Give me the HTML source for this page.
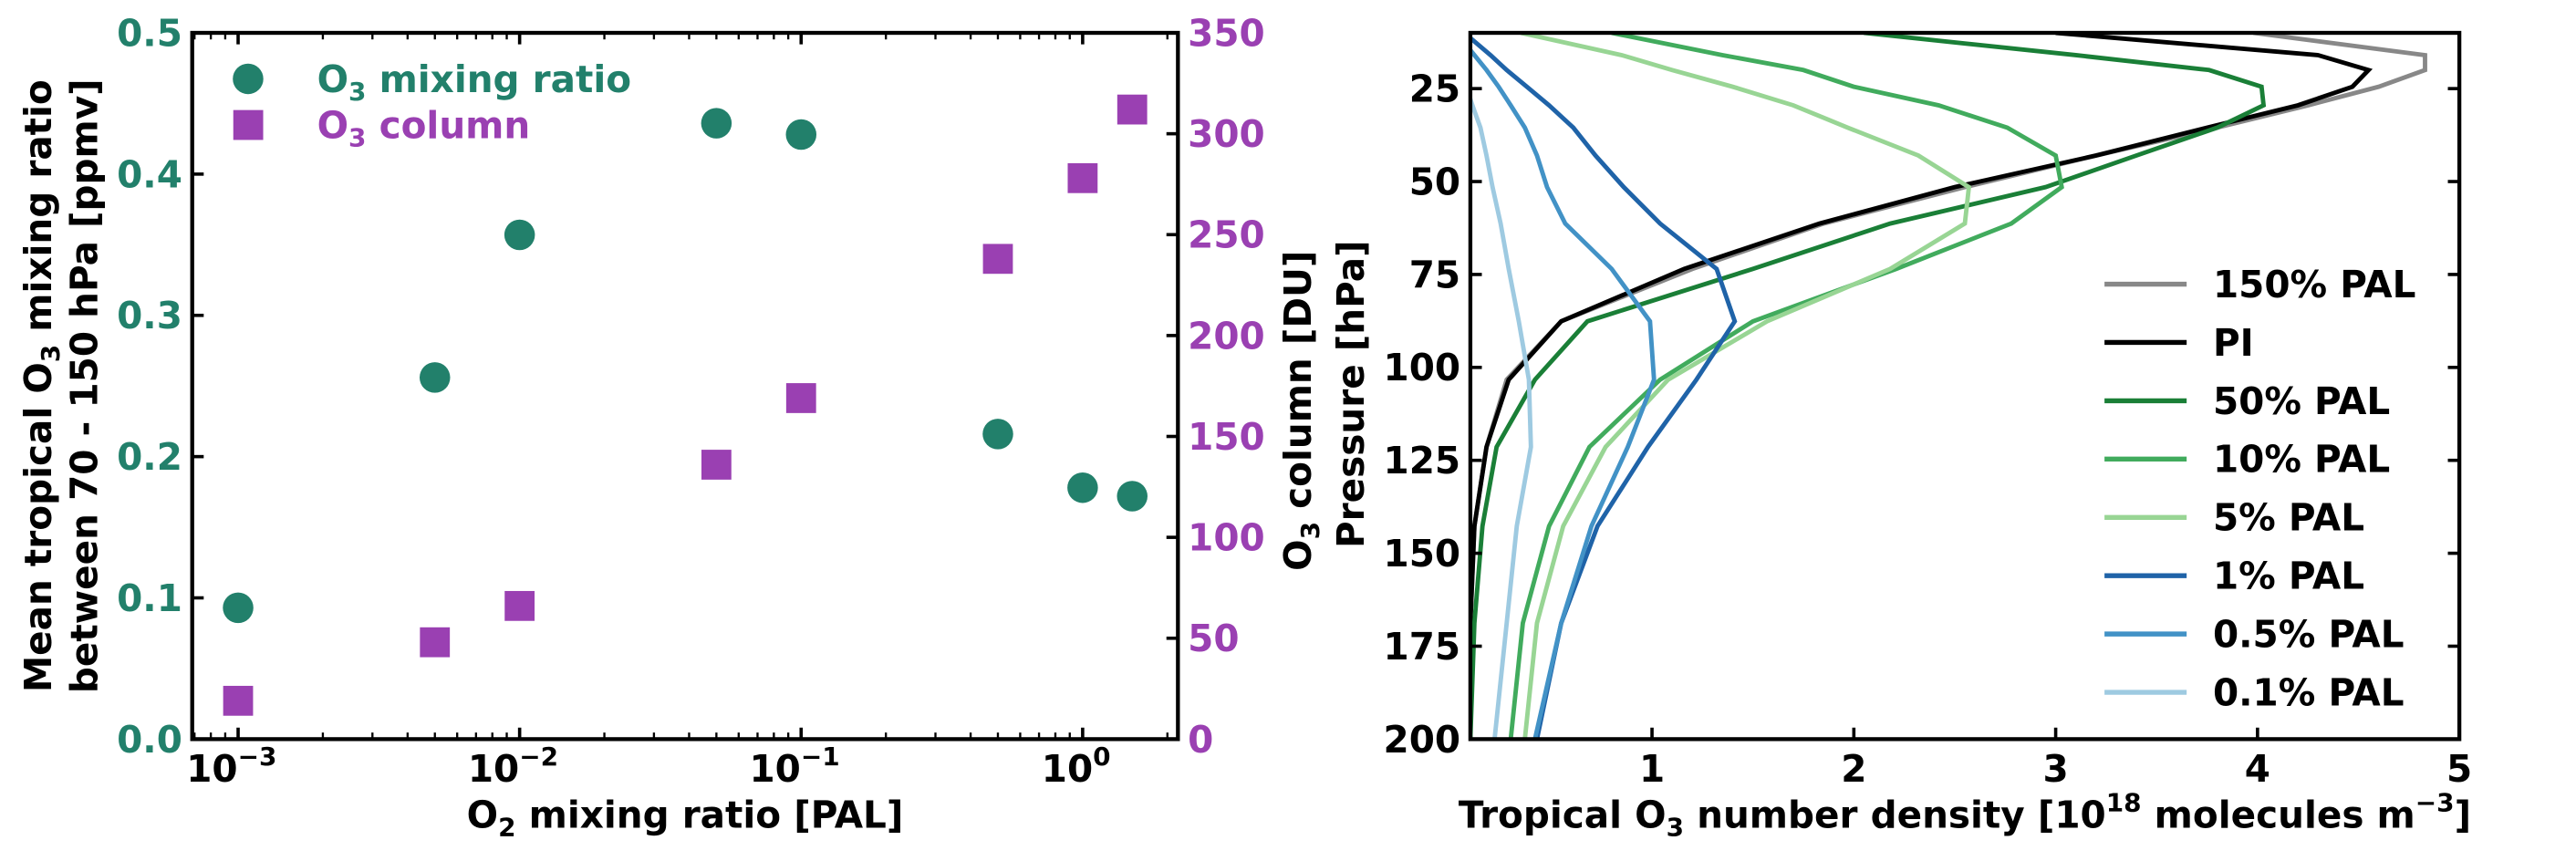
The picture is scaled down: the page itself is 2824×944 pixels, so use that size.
<!DOCTYPE html>
<html><head><meta charset="utf-8"><style>
html,body{margin:0;padding:0;background:#fff;}
svg{display:block;font-family:"DejaVu Sans","Liberation Sans",sans-serif;font-weight:bold;}
</style></head><body>
<svg id="fig" xmlns="http://www.w3.org/2000/svg" width="2824" height="944" viewBox="0 0 1568 524.2" preserveAspectRatio="none">
<rect width="1568" height="524.2" fill="#fff"/>
<g id="left"></g>
<g id="right"></g>
</svg>
<script>
// ---------- Left panel data ----------
const o2Levels = [0.001, 0.005, 0.01, 0.05, 0.1, 0.5, 1, 1.5];
const o3MixingRatio = [0.093, 0.256, 0.357, 0.436, 0.428, 0.216, 0.178, 0.172];
const o3Column = [19, 48, 66, 136, 169, 238, 278, 312];
const leftYTicks = [0, 0.1, 0.2, 0.3, 0.4, 0.5];
const rightYTicks = [0, 50, 100, 150, 200, 250, 300, 350];
const logXExps = [-3, -2, -1, 0];

// ---------- Right panel data ----------
const pressureLevels = [10, 16, 20, 24.5, 29.5, 35.5, 43, 51.5, 61.3, 73.5, 87.6, 103.3, 121.4, 142.7, 168.8, 200];
const seriesNames = ["150% PAL", "PI", "50% PAL", "10% PAL", "5% PAL", "1% PAL", "0.5% PAL", "0.1% PAL"];
const seriesColors = ["#888888", "#000000", "#1a7f37", "#41ab5d", "#98d594", "#1f63a8", "#4292c6", "#9ecae1"];
const pal150 = [3.98, 4.83, 4.83, 4.6, 4.25, 3.8, 3.2, 2.55, 1.85, 1.2, 0.55, 0.28, 0.18, 0.12, 0.1, 0.1];
const palPI  = [3.0, 4.3, 4.55, 4.47, 4.2, 3.75, 3.2, 2.5, 1.83, 1.16, 0.55, 0.29, 0.18, 0.12, 0.1, 0.1];
const pal50  = [2.05, 3.1, 3.76, 4.02, 4.03, 3.8, 3.4, 2.95, 2.18, 1.5, 0.68, 0.42, 0.23, 0.16, 0.12, 0.1];
const pal10  = [0.8, 1.35, 1.75, 2.0, 2.42, 2.76, 3.0, 3.03, 2.78, 2.21, 1.5, 1.04, 0.69, 0.49, 0.36, 0.3];
const pal5   = [0.35, 0.85, 1.1, 1.4, 1.7, 1.97, 2.32, 2.57, 2.55, 2.18, 1.57, 1.08, 0.77, 0.56, 0.43, 0.37];
const pal1   = [0.07, 0.2, 0.28, 0.38, 0.49, 0.61, 0.72, 0.86, 1.04, 1.32, 1.41, 1.22, 0.98, 0.73, 0.55, 0.43];
const pal05  = [0.03, 0.12, 0.18, 0.24, 0.3, 0.37, 0.43, 0.48, 0.57, 0.8, 0.99, 1.01, 0.88, 0.70, 0.55, 0.42];
const pal01  = [0.0, 0.02, 0.05, 0.08, 0.11, 0.15, 0.18, 0.21, 0.25, 0.29, 0.34, 0.39, 0.40, 0.33, 0.28, 0.22];
const seriesValues = [pal150, palPI, pal50, pal10, pal5, pal1, pal05, pal01];
const densityTicks = [1, 2, 3, 4, 5];
const pressureTicks = [25, 50, 75, 100, 125, 150, 175, 200];

const NS = "http://www.w3.org/2000/svg";
function mk(parent, tag, attrs, text) {
  const e = document.createElementNS(NS, tag);
  for (const k in attrs) e.setAttribute(k, attrs[k]);
  if (text !== undefined) e.textContent = text;
  parent.appendChild(e);
  return e;
}
const TEAL = "#22806b", PURP = "#9a40b2";
const FS = 22.5, SFS = 15.5;
const L = document.getElementById("left");
const R = document.getElementById("right");

// ---------- Left panel geometry ----------
const lx0 = 117, lx1 = 717, ly0 = 20, ly1 = 450;
const logMin = Math.log10(6.87e-4), logMax = Math.log10(2.18);
function xLog(v) { return lx0 + (Math.log10(v) - logMin) / (logMax - logMin) * (lx1 - lx0); }
function yMix(v) { return ly1 - v / 0.5 * (ly1 - ly0); }
function yCol(v) { return ly1 - v / 350 * (ly1 - ly0); }

leftYTicks.forEach(t => {
  const y = yMix(t);
  let tk = mk(L, "line", {x1: lx0, x2: lx0 + 7, y1: y, y2: y, stroke: "#000", "stroke-width": 2});
  
  
  let lb = mk(L, "text", {x: lx0 - 6, y: y + 8, "text-anchor": "end", "font-size": FS, fill: TEAL}, t.toFixed(1));
  
  
});
rightYTicks.forEach(t => {
  const y = yCol(t);
  let tk = mk(L, "line", {x1: lx1 - 7, x2: lx1, y1: y, y2: y, stroke: "#000", "stroke-width": 2});
  
  
  let lb = mk(L, "text", {x: lx1 + 6, y: y + 8, "text-anchor": "start", "font-size": FS, fill: PURP}, String(t));
  
  
});
for (let e = -4; e <= 0; e++) {
  for (let m = 1; m <= 9; m++) {
    const v = m * Math.pow(10, e);
    if (v < 6.87e-4 || v > 2.18) continue;
    const x = xLog(v);
    const len = m === 1 ? 7 : 4;
    let t1 = mk(L, "line", {x1: x, x2: x, y1: ly1, y2: ly1 - len, stroke: "#000", "stroke-width": m === 1 ? 2 : 1.3});
    
    
    let t2 = mk(L, "line", {x1: x, x2: x, y1: ly0, y2: ly0 + len, stroke: "#000", "stroke-width": m === 1 ? 2 : 1.3});
    
    
  }
}
logXExps.forEach(e => {
  const x = xLog(Math.pow(10, e));
  const t = mk(L, "text", {x: x - 4, y: 476, "text-anchor": "middle", "font-size": FS, fill: "#000"});
  
  
  mk(t, "tspan", {}, "10");
  const b = mk(t, "tspan", {dy: -10, "font-size": SFS}, "\u2212" + Math.abs(e));
  if (e === 0) b.textContent = "0";
});
o2Levels.forEach((v, i) => {
  const c = mk(L, "circle", {cx: xLog(v), cy: yMix(o3MixingRatio[i]), r: 9.3, fill: TEAL});
  
  
  const s = mk(L, "rect", {x: xLog(v) - 9.1, y: yCol(o3Column[i]) - 9.1, width: 18.2, height: 18.2, fill: PURP});
  
  
});
const lf = mk(L, "rect", {x: lx0, y: ly0, width: lx1 - lx0, height: ly1 - ly0, fill: "none", stroke: "#000", "stroke-width": 2.4});


const lg = mk(L, "g", {});


let lc = mk(lg, "circle", {cx: 151, cy: 48, r: 9.3, fill: TEAL});


let ls = mk(lg, "rect", {x: 142, y: 67, width: 18.2, height: 18.2, fill: PURP});


let lt1 = mk(lg, "text", {x: 193, y: 56, "font-size": FS, fill: TEAL});


mk(lt1, "tspan", {}, "O");
mk(lt1, "tspan", {dy: 5, "font-size": SFS}, "3");
mk(lt1, "tspan", {dy: -5}, " mixing ratio");
let lt2 = mk(lg, "text", {x: 193, y: 84, "font-size": FS, fill: PURP});


mk(lt2, "tspan", {}, "O");
mk(lt2, "tspan", {dy: 5, "font-size": SFS}, "3");
mk(lt2, "tspan", {dy: -5}, " column");
let xt = mk(L, "text", {x: 417, y: 504, "text-anchor": "middle", "font-size": FS, fill: "#000"});


mk(xt, "tspan", {}, "O");
mk(xt, "tspan", {dy: 5, "font-size": SFS}, "2");
mk(xt, "tspan", {dy: -5}, " mixing ratio [PAL]");
let yt1 = mk(L, "text", {transform: "translate(31,235) rotate(-90)", "text-anchor": "middle", "font-size": FS, fill: "#000"});


mk(yt1, "tspan", {}, "Mean tropical O");
mk(yt1, "tspan", {dy: 5, "font-size": SFS}, "3");
mk(yt1, "tspan", {dy: -5}, " mixing ratio");
let yt2 = mk(L, "text", {transform: "translate(59,235) rotate(-90)", "text-anchor": "middle", "font-size": FS, fill: "#000"}, "between 70 - 150 hPa [ppmv]");


let yt3 = mk(L, "text", {transform: "translate(798,250) rotate(-90)", "text-anchor": "middle", "font-size": FS, fill: "#000"});


mk(yt3, "tspan", {}, "O");
mk(yt3, "tspan", {dy: 5, "font-size": SFS}, "3");
mk(yt3, "tspan", {dy: -5}, " column [DU]");

// ---------- Right panel geometry ----------
const rx0 = 895, rx1 = 1497, ry0 = 20, ry1 = 450;
const dMin = 0.1, dMax = 5, pMin = 10, pMax = 200;
function xD(v) { return rx0 + (v - dMin) / (dMax - dMin) * (rx1 - rx0); }
function yP(p) { return ry0 + (p - pMin) / (pMax - pMin) * (ry1 - ry0); }
const defs = mk(R, "defs", {});
const cp = mk(defs, "clipPath", {id: "rclip"});
mk(cp, "rect", {x: rx0, y: ry0, width: rx1 - rx0, height: ry1 - ry0});
const lines = mk(R, "g", {"clip-path": "url(#rclip)"});
seriesValues.forEach((vals, i) => {
  const d = vals.map((v, j) => (j ? "L" : "M") + xD(v).toFixed(2) + "," + yP(pressureLevels[j]).toFixed(2)).join(" ");
  const p = mk(lines, "path", {d: d, fill: "none", stroke: seriesColors[i], "stroke-width": 2.7, "stroke-linejoin": "miter"});
  
  
});
densityTicks.forEach(t => {
  const x = xD(t);
  let tk = mk(R, "line", {x1: x, x2: x, y1: ry1, y2: ry1 - 7, stroke: "#000", "stroke-width": 2});
  
  
  let lb = mk(R, "text", {x: x, y: 476, "text-anchor": "middle", "font-size": FS, fill: "#000"}, String(t));
  
  
});
pressureTicks.forEach(t => {
  const y = yP(t);
  let tk = mk(R, "line", {x1: rx0, x2: rx0 + 7, y1: y, y2: y, stroke: "#000", "stroke-width": 2});
  
  
  let tk2 = mk(R, "line", {x1: rx1 - 7, x2: rx1, y1: y, y2: y, stroke: "#000", "stroke-width": 2});
  
  
  let lb = mk(R, "text", {x: rx0 - 6, y: y + 8, "text-anchor": "end", "font-size": FS, fill: "#000"}, String(t));
  
  
});
const rf = mk(R, "rect", {x: rx0, y: ry0, width: rx1 - rx0, height: ry1 - ry0, fill: "none", stroke: "#000", "stroke-width": 2.4});


const rl = mk(R, "g", {});


seriesNames.forEach((n, i) => {
  const y = 173 + i * 35.5;
  const ln = mk(rl, "line", {x1: 1281, x2: 1331, y1: y, y2: y, stroke: seriesColors[i], "stroke-width": 3});
  
  
  const tx = mk(rl, "text", {x: 1347, y: y + 8, "font-size": FS, fill: "#000"}, n);
  
  
});
let rxt = mk(R, "text", {x: 1196, y: 504, "text-anchor": "middle", "font-size": FS, fill: "#000"});


mk(rxt, "tspan", {}, "Tropical O");
mk(rxt, "tspan", {dy: 5, "font-size": SFS}, "3");
mk(rxt, "tspan", {dy: -5}, " number density [10");
mk(rxt, "tspan", {dy: -10, "font-size": SFS}, "18");
mk(rxt, "tspan", {dy: 10}, " molecules m");
mk(rxt, "tspan", {dy: -10, "font-size": SFS}, "\u22123");
mk(rxt, "tspan", {dy: 10}, "]");
let ryt = mk(R, "text", {transform: "translate(830,240) rotate(-90)", "text-anchor": "middle", "font-size": FS, fill: "#000"}, "Pressure [hPa]");


</script>
</body></html>
